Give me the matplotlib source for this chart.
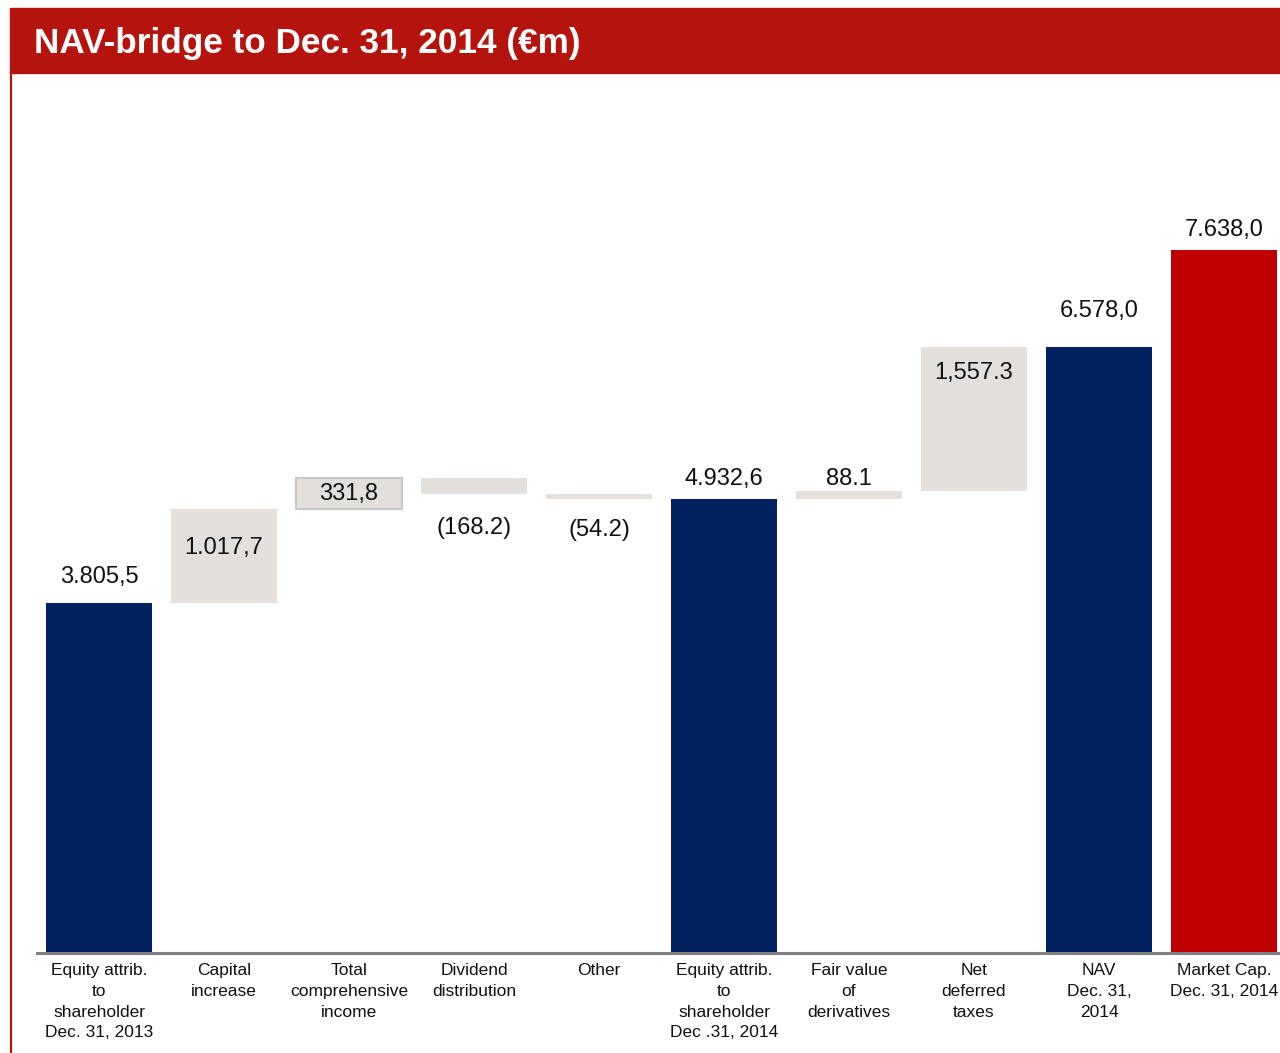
import matplotlib
matplotlib.use("Agg")
import matplotlib.pyplot as plt
from matplotlib.patches import Rectangle
from matplotlib.lines import Line2D
import numpy as np

plt.rcParams['font.family'] = ['Liberation Sans', 'DejaVu Sans']

# NAV bridge data (EUR m)
categories = [
    "Equity attrib.\nto\nshareholder\nDec. 31, 2013",
    "Capital\nincrease",
    "Total\ncomprehensive\nincome",
    "Dividend\ndistribution",
    "Other",
    "Equity attrib.\nto\nshareholder\nDec .31, 2014",
    "Fair value\nof\nderivatives",
    "Net\ndeferred\ntaxes",
    "NAV\nDec. 31,\n2014",
    "Market Cap.\nDec. 31, 2014",
]
values = [3805.5, 1017.7, 331.8, -168.2, -54.2, 4932.6, 88.1, 1557.3, 6578.0, 7638.0]
is_total = [True, False, False, False, False, True, False, False, True, True]
value_labels = ["3.805,5", "1.017,7", "331,8", "(168.2)", "(54.2)",
                "4.932,6", "88.1", "1,557.3", "6.578,0", "7.638,0"]

NAVY = "#00205F"
RED = "#C00000"
GREY = "#E3DFDD"
TITLE_RED = "#B5140E"

W, H = 1280, 1053
fig = plt.figure(figsize=(W / 100, H / 100), dpi=100)

# title band and left rule
fig.patches.append(Rectangle((10 / W, 1 - 73 / H), 1 - 10 / W, 65 / H,
                             transform=fig.transFigure, color=TITLE_RED, zorder=0))
fig.lines.append(Line2D([11 / W, 11 / W], [0, 1 - 73 / H], transform=fig.transFigure,
                        color=TITLE_RED, lw=1.6))
fig.text(34 / W, 1 - 44 / H, "NAV-bridge to Dec. 31, 2014 (€m)", color="white",
         fontsize=25.3, fontweight="bold", va="center", ha="left")

# axes: baseline at y=953 px, bar pitch 125 px
ax_left, ax_bottom = 36.5 / W, (H - 953) / H
ax_top = (H - 100) / H
ax = fig.add_axes([ax_left, ax_bottom, 1 - ax_left, ax_top - ax_bottom])
x = np.arange(len(values))
ax.set_xlim(-0.5, (1280 - 99) / 125)
ax.set_ylim(0, 853 / 0.0921)

# waterfall bottoms
bottoms, heights, colors = [], [], []
running = 0.0
for i, (v, tot) in enumerate(zip(values, is_total)):
    if tot:
        bottoms.append(0.0)
        heights.append(v)
        colors.append(RED if i == len(values) - 1 else NAVY)
        running = v
    else:
        if v >= 0:
            bottoms.append(running)
        else:
            bottoms.append(running + v)
        heights.append(abs(v))
        colors.append(GREY)
        running += v

bars = ax.bar(x, heights, bottom=bottoms, width=0.85, color=colors, zorder=2)
bars[2].set_edgecolor("#C9C7C6")
bars[2].set_linewidth(1.5)

# label placement: (anchor, pixel offset)
label_pos = ["above", "inside_top", "center", "below", "below",
             "above", "above", "inside_top", "above", "above"]
offsets = [26, 39, 0, 34, 31, 20, 12, 26, 36, 20]
for i, lab in enumerate(value_labels):
    b, h = bottoms[i], heights[i]
    pos = label_pos[i]
    if pos == "above":
        y, dy = b + h, offsets[i]
    elif pos == "inside_top":
        y, dy = b + h, -offsets[i]
    elif pos == "below":
        y, dy = b, -offsets[i]
    else:
        y, dy = b + h / 2, 0
    ax.annotate(lab, (x[i], y), xytext=(0, dy * 0.72), textcoords="offset points",
                ha="center", va="center", fontsize=17, color="#111111", zorder=3)

ax.set_xticks(x)
ax.set_xticklabels(categories, fontsize=12.5, color="#111111", linespacing=1.47)
ax.tick_params(axis="x", length=0, pad=7.5)
ax.set_yticks([])
for s in ["left", "right", "top"]:
    ax.spines[s].set_visible(False)
ax.spines["bottom"].set_color("#808080")
ax.spines["bottom"].set_linewidth(2.2)
ax.spines["bottom"].set_zorder(4)
ax.patch.set_alpha(0)

fig.savefig("out.png", dpi=100)
